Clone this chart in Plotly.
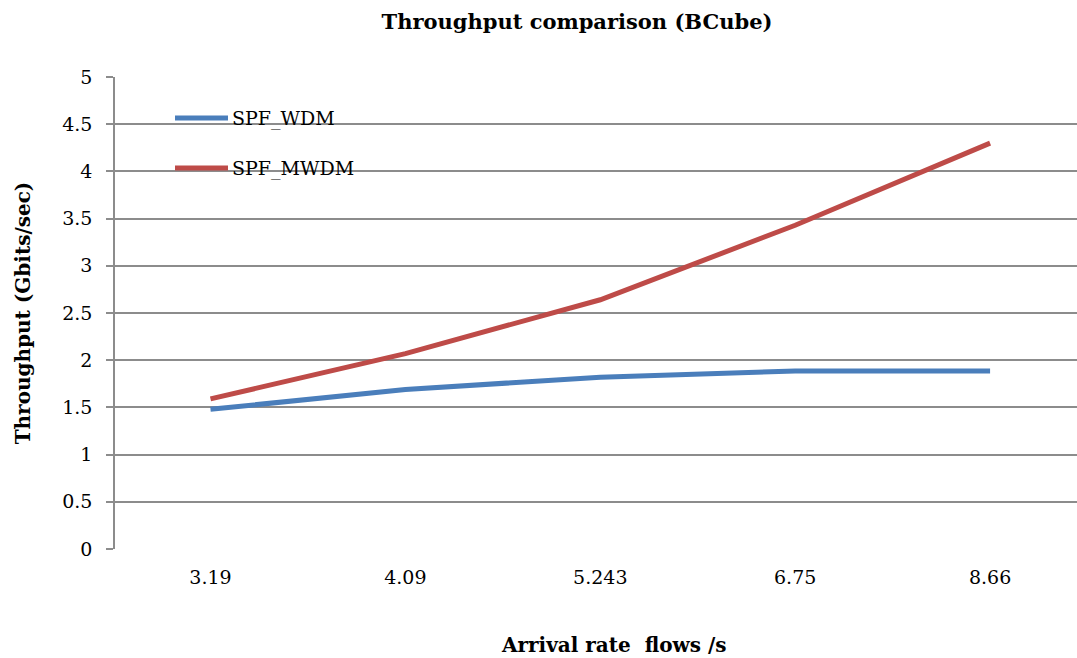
import plotly.graph_objects as go

# Arrival rates (flows/s) and measured throughput in Gbits/sec
arrival_rates = ["3.19", "4.09", "5.243", "6.75", "8.66"]
spf_wdm = [1.48, 1.69, 1.82, 1.885, 1.885]
spf_mwdm = [1.59, 2.07, 2.64, 3.43, 4.30]
y_ticks = [0, 0.5, 1, 1.5, 2, 2.5, 3, 3.5, 4, 4.5, 5]

BLUE = "#4A7EBB"
RED = "#BE4B48"
GRID = "#8C8C8C"
FONT = "DejaVu Serif"
LW = 5

W, H = 1077, 658
L, R, T, B = 115, 0, 77, 109
pw, ph = W - L - R, H - T - B


def px(x):
    return (x - L) / pw


def py(y):
    return (H - B - y) / ph


fig = go.Figure()
fig.add_trace(go.Scatter(x=arrival_rates, y=spf_wdm, mode="lines", name="SPF_WDM",
                         line=dict(color=BLUE, width=LW)))
fig.add_trace(go.Scatter(x=arrival_rates, y=spf_mwdm, mode="lines", name="SPF_MWDM",
                         line=dict(color=RED, width=LW)))

# Legend drawn inside the plot area
legend_items = [("SPF_WDM", BLUE, 118), ("SPF_MWDM", RED, 168)]
for label, color, ypix in legend_items:
    fig.add_shape(type="line", xref="paper", yref="paper",
                  x0=px(175), x1=px(228), y0=py(ypix), y1=py(ypix),
                  line=dict(color=color, width=LW))
    fig.add_annotation(xref="paper", yref="paper", x=px(230), y=py(ypix),
                       text=label, showarrow=False, xanchor="left", yanchor="middle",
                       font=dict(family=FONT, size=19, color="#000"))

# x-axis title, centred under the category labels
fig.add_annotation(xref="paper", yref="paper", x=px(614), y=py(645),
                   text="<b>Arrival rate  flows /s</b>", showarrow=False,
                   xanchor="center", yanchor="middle",
                   font=dict(family=FONT, size=20, color="#000"))

fig.update_layout(
    width=W, height=H,
    margin=dict(l=L, r=R, t=T, b=B),
    paper_bgcolor="white", plot_bgcolor="white",
    showlegend=False,
    title=dict(text="<b>Throughput comparison (BCube)</b>",
               xref="paper", x=(577 - L) / pw, xanchor="center",
               y=1 - 22 / H, yanchor="middle",
               font=dict(family=FONT, size=21, color="#000")),
    font=dict(family=FONT, color="#000"),
)

fig.update_xaxes(
    type="category", range=[-0.49, 4.446],
    showgrid=False, showline=False, zeroline=False, ticks="",
    ticklabelstandoff=15,
    tickfont=dict(family=FONT, size=19, color="#000"),
)
fig.update_yaxes(
    range=[0, 5], tickvals=y_ticks, ticktext=[f"{v:g}" for v in y_ticks],
    showgrid=True, gridcolor=GRID, gridwidth=1.5,
    showline=True, linecolor=GRID, linewidth=1.5,
    ticks="outside", ticklen=7, tickcolor=GRID, tickwidth=1.5,
    ticklabelstandoff=10,
    zeroline=False,
    tickfont=dict(family=FONT, size=19, color="#000"),
    title=dict(text="<b>Throughput (Gbits/sec)</b>", standoff=26,
               font=dict(family=FONT, size=20, color="#000")),
)

fig.write_html("out.html")
